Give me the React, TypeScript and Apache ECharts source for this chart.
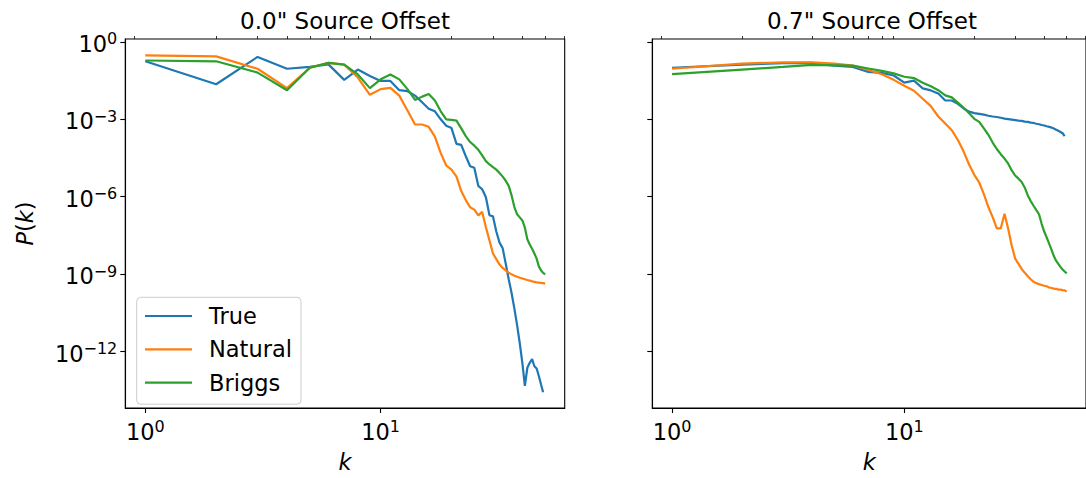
import React, { useEffect, useRef } from "react";
import * as echarts from "echarts";

// wavenumber samples
const K = [
  1, 2, 3, 4, 5, 6, 7, 8, 9, 10, 11, 12, 13, 14, 15, 16, 17, 18, 19, 20, 21, 22, 23, 24, 25,
  26, 27, 28, 29, 30, 31, 32, 33, 34, 35, 36, 37, 38, 39, 40, 41, 42, 43, 44, 45, 46, 47, 48, 49, 50,
];

// log10 P(k), 0.0" source offset
const TRUE_OFF0 = [
  -0.75, -1.64, -0.58, -1.04, -0.97, -0.87, -1.47, -1.07, -1.32, -1.51, -1.51, -1.87, -1.91, -2.08,
  -2.34, -2.59, -2.69, -3.0, -3.25, -3.34, -3.95, -3.99, -4.43, -4.82, -4.88, -5.58, -5.71, -6.02,
  -6.72, -6.76, -7.35, -7.78, -8.0, -8.6, -9.2, -9.73, -10.34, -10.98, -11.68, -12.44, -13.33,
  -12.63, -12.44, -12.29, -12.57, -12.66, -12.95, -13.27, -13.58,
];
const NATURAL_OFF0 = [
  -0.52, -0.56, -1.04, -1.79, -1.0, -0.81, -0.88, -1.38, -2.05, -1.83, -1.78, -2.08, -2.66, -3.2,
  -3.2, -3.29, -3.67, -4.31, -4.79, -4.95, -5.22, -5.78, -6.13, -6.41, -6.5, -6.72, -6.59, -7.18,
  -7.7, -8.2, -8.42, -8.63, -8.76, -8.86, -8.94, -9.01, -9.06, -9.1, -9.14, -9.17, -9.2, -9.23,
  -9.25, -9.28, -9.3, -9.32, -9.33, -9.34, -9.35, -9.37,
];
const BRIGGS_OFF0 = [
  -0.72, -0.75, -1.19, -1.87, -1.0, -0.81, -0.88, -1.26, -1.79, -1.45, -1.26, -1.45, -1.83, -2.25,
  -2.12, -2.02, -2.27, -2.69, -3.0, -3.02, -3.05, -3.35, -3.65, -3.88, -4.02, -4.18, -4.4, -4.62,
  -4.75, -4.85, -4.95, -5.08, -5.22, -5.38, -5.58, -5.95, -6.4, -6.68, -6.8, -6.92, -7.2, -7.65,
  -7.85, -8.02, -8.2, -8.4, -8.7, -8.85, -8.95, -9.01,
];

// log10 P(k), 0.7" source offset
const TRUE_OFF7 = [
  -1.0, -0.88, -0.82, -0.81, -0.92, -0.97, -1.16, -1.2, -1.3, -1.58, -1.5, -1.8, -1.88, -2.0,
  -2.27, -2.27, -2.4, -2.58, -2.7, -2.76, -2.79, -2.82, -2.86, -2.89, -2.91, -2.94, -2.97, -2.99,
  -3.01, -3.03, -3.05, -3.06, -3.09, -3.1, -3.13, -3.14, -3.17, -3.19, -3.22, -3.24, -3.27, -3.29,
  -3.32, -3.36, -3.4, -3.44, -3.49, -3.54, -3.65,
];
const NATURAL_OFF7 = [
  -1.04, -0.84, -0.79, -0.79, -0.84, -0.915, -1.09, -1.25, -1.47, -1.7, -1.89, -2.2, -2.49, -2.89,
  -3.16, -3.42, -3.8, -4.25, -4.75, -5.15, -5.45, -5.9, -6.4, -6.79, -7.23, -7.23, -6.66, -7.25,
  -7.9, -8.4, -8.6, -8.8, -8.95, -9.08, -9.2, -9.3, -9.35, -9.39, -9.42, -9.45, -9.47, -9.52, -9.54,
  -9.56, -9.57, -9.6, -9.6, -9.62, -9.63, -9.68,
];
const BRIGGS_OFF7 = [
  -1.245, -1.07, -0.97, -0.89, -0.905, -0.915, -1.03, -1.12, -1.22, -1.35, -1.4, -1.58, -1.72,
  -1.87, -2.07, -2.15, -2.35, -2.55, -2.76, -2.98, -3.1, -3.35, -3.6, -3.9, -4.15, -4.35, -4.52,
  -4.72, -4.98, -5.18, -5.3, -5.43, -5.65, -5.95, -6.17, -6.35, -6.52, -6.68, -7.05, -7.35, -7.58,
  -7.82, -8.05, -8.3, -8.48, -8.6, -8.72, -8.82, -8.9, -8.97,
];

const PANEL_TITLES = ['0.0" Source Offset', '0.7" Source Offset'];
const SERIES_NAMES = ["True", "Natural", "Briggs"];
const COLORS = ["#1f77b4", "#ff7f0e", "#2ca02c"];

const X_MAJOR = [1, 10];
const X_MINOR = [0.9, 2, 3, 4, 5, 6, 7, 8, 9, 20, 30, 40, 50, 60];
const Y_MAJOR = [1e-12, 1e-9, 1e-6, 1e-3, 1];

// axis extents (log-space padding around the data)
const X_MIN = Math.pow(10, -0.085);
const X_MAX = Math.pow(10, 1.782);
const Y_MIN = Math.pow(10, -14.19);
const Y_MAX = Math.pow(10, 0.114);

const FONT = "DejaVu Sans";
const FS = 22.5;

const GRID_TOP = 39;
const GRID_W = 439.4;
const GRID_H = 375.3;
const GRID_LEFTS = [125.3, 652.3];

const toPoints = (logs: number[]) => logs.map((v, i) => [K[i], Math.pow(10, v)]);

const powerLabel = (v: number) => {
  const e = Math.round(Math.log10(v));
  const s = e < 0 ? "\u2212" + -e : String(e);
  return `{b|10}{s|${s}}`;
};

const labelRich = {
  b: { fontSize: FS, fontFamily: FONT, color: "#000", lineHeight: 26 },
  s: { fontSize: 16, fontFamily: FONT, color: "#000", lineHeight: 14, verticalAlign: "top" as const },
};

export default function App() {
  const ref = useRef<HTMLDivElement>(null);

  useEffect(() => {
    if (!ref.current) return;
    const chart = echarts.init(ref.current, null, { renderer: "svg" });

    const panels = [
      [TRUE_OFF0, NATURAL_OFF0, BRIGGS_OFF0],
      [TRUE_OFF7, NATURAL_OFF7, BRIGGS_OFF7],
    ];

    const grids = GRID_LEFTS.map((left) => ({
      left,
      top: GRID_TOP,
      width: GRID_W,
      height: GRID_H,
      show: true,
      borderColor: "#000",
      borderWidth: 1.1,
      backgroundColor: "transparent",
      containLabel: false,
    }));

    const mainX = GRID_LEFTS.map((_, gi) => ({
      type: "log",
      logBase: 10,
      gridIndex: gi,
      min: X_MIN,
      max: X_MAX,
      axisLine: { show: true, onZero: false, lineStyle: { color: "#000", width: 1.1 } },
      axisTick: { show: true, length: 5, customValues: X_MAJOR, lineStyle: { color: "#000", width: 1.1 } },
      axisLabel: {
        show: true,
        customValues: X_MAJOR,
        margin: 10.5,
        formatter: powerLabel,
        rich: labelRich,
      },
      splitLine: { show: false },
      minorTick: { show: false },
      name: "k",
      nameLocation: "middle",
      nameGap: 42,
      nameTextStyle: { fontFamily: FONT, fontSize: FS, fontStyle: "italic", color: "#000" },
    }));

    const minorX = GRID_LEFTS.map((_, gi) => ({
      type: "log",
      logBase: 10,
      gridIndex: gi,
      min: X_MIN,
      max: X_MAX,
      axisLine: { show: false },
      axisTick: { show: true, length: 3, customValues: X_MINOR, lineStyle: { color: "#000", width: 0.8 } },
      axisLabel: { show: false },
      splitLine: { show: false },
    }));

    const yAxes = GRID_LEFTS.map((_, gi) => ({
      type: "log",
      logBase: 10,
      gridIndex: gi,
      min: Y_MIN,
      max: Y_MAX,
      axisLine: { show: true, onZero: false, lineStyle: { color: "#000", width: 1.1 } },
      axisTick: { show: true, length: 5, customValues: Y_MAJOR, lineStyle: { color: "#000", width: 1.1 } },
      axisLabel: {
        show: gi === 0,
        customValues: Y_MAJOR,
        margin: 8,
        padding: [4, 0, 0, 0],
        formatter: powerLabel,
        rich: labelRich,
      },
      splitLine: { show: false },
      name: gi === 0 ? "{i|P}{n|(}{i|k}{n|)}" : "",
      nameLocation: "middle",
      nameGap: 89,
      nameTextStyle: {
        rich: {
          i: { fontFamily: FONT, fontSize: FS, fontStyle: "italic", color: "#000" },
          n: { fontFamily: FONT, fontSize: FS, color: "#000" },
        },
      },
    }));

    const series: any[] = [];
    panels.forEach((arrs, pi) => {
      arrs.forEach((arr, si) => {
        series.push({
          type: "line",
          name: SERIES_NAMES[si],
          xAxisIndex: pi,
          yAxisIndex: pi,
          data: toPoints(arr),
          symbol: "none",
          color: COLORS[si],
          lineStyle: { color: COLORS[si], width: 2.2 },
          z: 3 + si,
        });
      });
    });

    chart.setOption({
      animation: false,
      backgroundColor: "#fff",
      title: PANEL_TITLES.map((t, i) => ({
        text: t,
        left: GRID_LEFTS[i] + GRID_W / 2,
        top: 9,
        textAlign: "center",
        padding: 0,
        textStyle: { fontFamily: FONT, fontSize: 23, fontWeight: "normal", color: "#000" },
      })),
      grid: grids,
      xAxis: [...mainX, ...minorX],
      yAxis: yAxes,
      legend: {
        data: SERIES_NAMES,
        orient: "vertical",
        left: 136.7,
        top: 297.3,
        padding: [6.7, 9, 9.6, 8.3],
        itemGap: 9.3,
        itemWidth: 47,
        itemHeight: 2.2,
        icon: "rect",
        selectedMode: false,
        backgroundColor: "rgba(255,255,255,0.8)",
        borderColor: "#cccccc",
        borderWidth: 1,
        borderRadius: 4,
        textStyle: {
          fontFamily: FONT,
          fontSize: FS,
          color: "#000",
          lineHeight: 24,
          padding: [0, 0, 0, 12],
        },
      },
      series,
    });

    return () => chart.dispose();
  }, []);

  return (
    <div
      ref={ref}
      style={{ position: "fixed", left: 0, top: 0, width: 1086, height: 478, background: "#fff" }}
    />
  );
}
